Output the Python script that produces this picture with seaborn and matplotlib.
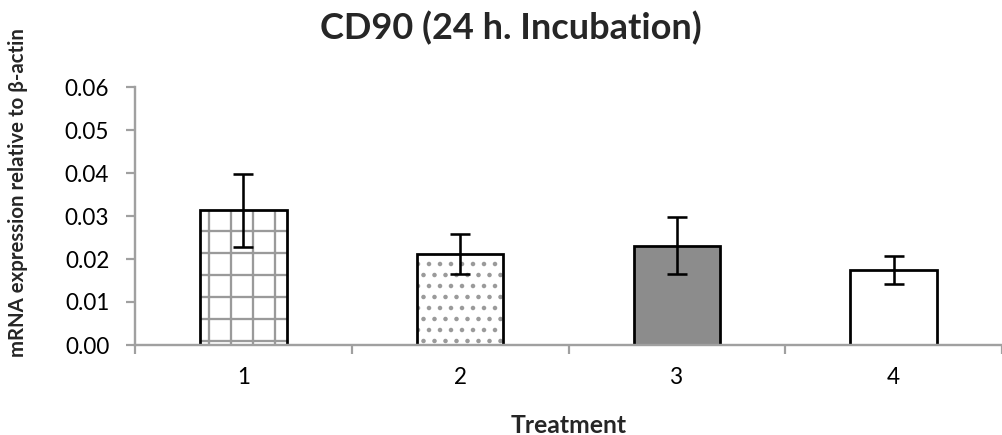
import matplotlib
matplotlib.use("Agg")
import matplotlib.pyplot as plt
import seaborn as sns
import pandas as pd
import numpy as np

# Data
treatments = ["1", "2", "3", "4"]
expression = [0.0313, 0.0211, 0.0231, 0.0175]
std_err = [0.0085, 0.0046, 0.0066, 0.0033]

fills = ["white", "white", "#8c8c8c", "white"]
hatches = ["+", "..", "", ""]

sns.set_theme(style="white")
plt.rcParams["font.family"] = ["Lato", "DejaVu Sans"]
plt.rcParams["hatch.linewidth"] = 1.25

DPI = 132
fig = plt.figure(figsize=(1002 / DPI, 435 / DPI), dpi=DPI)
ax = fig.add_axes([135 / 1002, 1 - 345 / 435, 1 - 135 / 1002, (345 - 87) / 435])

df = pd.DataFrame({"Treatment": treatments, "value": expression})

# fill + hatch layer
sns.barplot(data=df, x="Treatment", y="value", order=treatments, width=0.4,
            errorbar=None, ax=ax, color="white", linewidth=0, zorder=1)
for p, fc, h in zip(ax.patches, fills, hatches):
    p.set_facecolor(fc)
    p.set_edgecolor("#9a9a9a")
    p.set_linewidth(0)
    p.set_hatch(h)

# outline layer
sns.barplot(data=df, x="Treatment", y="value", order=treatments, width=0.4,
            errorbar=None, ax=ax, fill=False, edgecolor="black", linewidth=1.5,
            zorder=2)

ax.errorbar(x=np.arange(len(treatments)), y=expression, yerr=std_err,
            fmt="none", ecolor="black", elinewidth=1.4, capsize=5.5,
            capthick=1.4, zorder=3)

ax.set_xlim(-0.5, len(treatments) - 0.5)
ax.set_ylim(0, 0.06)
yt = np.arange(0, 0.061, 0.01)
ax.set_yticks(yt)
ax.set_yticklabels([f"{v:.2f}" for v in yt])

# category boundaries carry the tick marks, labels sit at the centres
ax.set_xticks(np.arange(-0.5, len(treatments), 1.0))
ax.set_xticklabels([])
ax.set_xticks(np.arange(len(treatments)), minor=True)
ax.set_xticklabels(treatments, minor=True)
ax.tick_params(axis="x", which="major", length=5, width=1.2, color="#a0a0a0",
               direction="out", bottom=True)
ax.tick_params(axis="x", which="minor", length=0, labelsize=12.3, pad=12,
               labelcolor="black")
ax.tick_params(axis="y", length=5, width=1.2, color="#a0a0a0", direction="out",
               left=True, labelsize=12.3, pad=9, labelcolor="black")

for side in ["top", "right"]:
    ax.spines[side].set_visible(False)
for side in ["left", "bottom"]:
    ax.spines[side].set_color("#a0a0a0")
    ax.spines[side].set_linewidth(1.3)

ax.set_xlabel("Treatment", fontsize=13.5, fontweight="bold", labelpad=14)
ax.set_ylabel("")
fig.text(18 / 1002, 1 - 193 / 435, "mRNA expression relative to β-actin",
         rotation=90, ha="center", va="center", fontsize=11.1, fontweight="bold")
fig.text(511 / 1002, 1 - 28 / 435, "CD90 (24 h. Incubation)", ha="center",
         va="center", fontsize=19.7, fontweight="bold")

fig.savefig("out.png", dpi=DPI)
